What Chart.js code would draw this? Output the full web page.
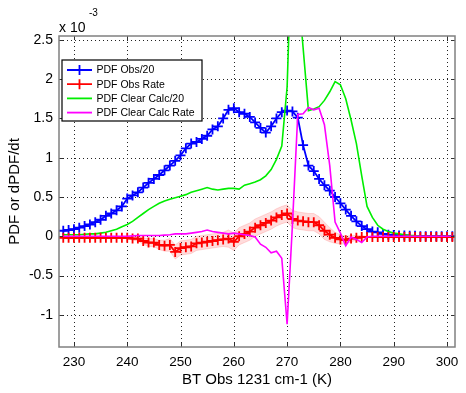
<!DOCTYPE html>
<html>
<head>
<meta charset="utf-8">
<script src="https://cdn.jsdelivr.net/npm/chart.js@4.4.1/dist/chart.umd.min.js"></script>
<style>
  html, body { margin: 0; padding: 0; background: #fff; }
  #wrap { width: 466px; height: 393px; }
</style>
</head>
<body>
<div id="wrap"><canvas id="chart" width="466" height="393"></canvas></div>
<script>
// brightness temperature bins (K)
const temps = [228, 229, 230, 231, 232, 233, 234, 235, 236, 237, 238, 239, 240, 241, 242, 243, 244, 245, 246, 247,
  248, 249, 250, 251, 252, 253, 254, 255, 256, 257, 258, 259, 260, 261, 262, 263, 264, 265, 266, 267,
  268, 269, 270, 271, 272, 273, 274, 275, 276, 277, 278, 279, 280, 281, 282, 283, 284, 285, 286, 287,
  288, 289, 290, 291, 292, 293, 294, 295, 296, 297, 298, 299, 300, 301];

// all values in units of 1e-3
const obsPdf = [0.07, 0.08, 0.09, 0.11, 0.13, 0.15, 0.18, 0.21, 0.26, 0.29, 0.33, 0.38, 0.48, 0.52, 0.56, 0.62, 0.68, 0.73, 0.78, 0.84,
  0.90, 0.96, 1.03, 1.12, 1.18, 1.20, 1.24, 1.28, 1.36, 1.40, 1.50, 1.61, 1.63, 1.58, 1.56, 1.52, 1.45, 1.38, 1.32, 1.40,
  1.50, 1.58, 1.60, 1.59, 1.51, 1.16, 0.90, 0.83, 0.73, 0.65, 0.58, 0.50, 0.42, 0.34, 0.26, 0.19, 0.13, 0.09, 0.06, 0.05,
  0.03, 0.02, 0.015, 0.01, 0.01, 0.005, 0.005, 0, 0, 0, 0, 0, 0, 0];

const obsRate = [-0.02, -0.02, -0.02, -0.02, -0.02, -0.02, -0.02, -0.02, -0.02, -0.02, -0.02, -0.02, -0.02, -0.03, -0.03, -0.06, -0.08, -0.08, -0.11, -0.12,
  -0.11, -0.20, -0.15, -0.14, -0.13, -0.09, -0.08, -0.07, -0.06, -0.05, -0.04, -0.03, -0.07, 0.00, 0.03, 0.06, 0.11, 0.14, 0.17, 0.20,
  0.24, 0.27, 0.29, 0.22, 0.20, 0.19, 0.18, 0.18, 0.14, 0.07, 0.02, -0.02, -0.04, -0.05, -0.03, -0.02, -0.01, -0.01, -0.01, -0.01,
  -0.01, -0.01, -0.01, -0.01, -0.01, -0.01, -0.01, -0.01, -0.01, -0.01, -0.01, -0.01, -0.01, -0.01];

// spread of the obs rate (shaded band)
const obsRateErr = [0.01, 0.01, 0.01, 0.01, 0.01, 0.01, 0.01, 0.01, 0.01, 0.01, 0.01, 0.01, 0.01, 0.02, 0.03, 0.04, 0.05, 0.05, 0.06, 0.07,
  0.08, 0.09, 0.09, 0.09, 0.09, 0.09, 0.09, 0.09, 0.09, 0.09, 0.09, 0.11, 0.11, 0.11, 0.11, 0.11, 0.11, 0.11, 0.11, 0.11,
  0.11, 0.11, 0.11, 0.11, 0.11, 0.11, 0.11, 0.11, 0.11, 0.11, 0.09, 0.07, 0.06, 0.05, 0.04, 0.03, 0.02, 0.01, 0.01, 0.01,
  0.01, 0.01, 0.01, 0.01, 0.01, 0.01, 0.01, 0.01, 0.01, 0.01, 0.01, 0.01, 0.01, 0.01];

const clearPdf = [0.02, 0.02, 0.02, 0.02, 0.025, 0.03, 0.03, 0.04, 0.05, 0.07, 0.09, 0.12, 0.15, 0.19, 0.24, 0.29, 0.34, 0.38, 0.42, 0.45,
  0.47, 0.49, 0.51, 0.53, 0.56, 0.58, 0.60, 0.62, 0.60, 0.59, 0.60, 0.61, 0.61, 0.60, 0.65, 0.67, 0.69, 0.72, 0.77, 0.85,
  0.98, 1.15, 1.90, 4.00, 3.20, 2.40, 1.60, 1.62, 1.65, 1.73, 1.84, 1.97, 1.93, 1.75, 1.48, 1.18, 0.77, 0.38, 0.24, 0.14,
  0.09, 0.06, 0.04, 0.03, 0.02, 0.01, 0.01, 0, 0, 0, 0, 0, 0, 0];

const clearRate = [0, 0, 0, 0, 0, 0, 0, 0, 0, 0, 0, 0, 0, 0.005, 0.01, 0.01, 0.01, 0.01, 0.01, 0.015,
  0.02, 0.03, 0.03, 0.03, 0.04, 0.05, 0.06, 0.08, 0.06, 0.05, 0.04, 0.03, 0.04, 0.03, 0.02, 0.01, -0.01, -0.10, -0.14, -0.21,
  -0.19, -0.28, -1.12, 0.15, 1.55, 1.56, 1.64, 1.61, 1.63, 1.42, 0.90, 0.18, 0.04, -0.12, -0.01, -0.04, -0.08, -0.01, 0, 0,
  0, 0, 0, 0, 0, 0, 0, 0, 0, 0, 0, 0, 0, 0];

const xTicks = [230, 240, 250, 260, 270, 280, 290, 300];
const yTicks = [-1, -0.5, 0, 0.5, 1, 1.5, 2, 2.5];
const labels = ["PDF Obs/20", "PDF Obs Rate", "PDF Clear Calc/20", "PDF Clear Calc Rate"];

const FONT = "'Liberation Sans', Arial, Helvetica, sans-serif";

function pts(vals) {
  return temps.map((t, i) => ({ x: t, y: vals[i] }));
}

// dotted grid under the data, MATLAB style
const dottedGrid = {
  id: "dottedGrid",
  beforeDatasetsDraw(chart) {
    const ctx = chart.ctx;
    const a = chart.chartArea;
    const xs = chart.scales.x, ys = chart.scales.y;
    ctx.save();
    ctx.strokeStyle = "#222";
    ctx.lineWidth = 1;
    ctx.setLineDash([1, 3]);
    ctx.beginPath();
    xTicks.forEach(v => {
      const px = Math.round(xs.getPixelForValue(v)) + 0.5;
      ctx.moveTo(px, a.bottom); ctx.lineTo(px, a.top);
    });
    yTicks.forEach(v => {
      const py = Math.round(ys.getPixelForValue(v)) + 0.5;
      ctx.moveTo(a.left, py); ctx.lineTo(a.right, py);
    });
    ctx.stroke();
    ctx.restore();
  }
};

// frame, inner tick marks, legend and axis texts
const matlabDecor = {
  id: "matlabDecor",
  afterDraw(chart) {
    const ctx = chart.ctx;
    const a = chart.chartArea;
    const xs = chart.scales.x, ys = chart.scales.y;
    ctx.save();

    // inner ticks
    ctx.strokeStyle = "#333";
    ctx.lineWidth = 1;
    ctx.beginPath();
    xTicks.forEach(v => {
      const px = Math.round(xs.getPixelForValue(v)) + 0.5;
      ctx.moveTo(px, a.bottom); ctx.lineTo(px, a.bottom - 4);
      ctx.moveTo(px, a.top); ctx.lineTo(px, a.top + 4);
    });
    yTicks.forEach(v => {
      const py = Math.round(ys.getPixelForValue(v)) + 0.5;
      ctx.moveTo(a.left, py); ctx.lineTo(a.left + 4, py);
      ctx.moveTo(a.right, py); ctx.lineTo(a.right - 4, py);
    });
    ctx.stroke();

    // box
    ctx.strokeStyle = "#808080";
    ctx.lineWidth = 1.5;
    ctx.strokeRect(a.left, a.top, a.right - a.left, a.bottom - a.top);

    // exponent
    ctx.fillStyle = "#000";
    ctx.textBaseline = "alphabetic";
    ctx.textAlign = "left";
    ctx.font = "14px " + FONT;
    ctx.fillText("x 10", 59, 32);
    ctx.font = "10px " + FONT;
    ctx.fillText("-3", 89, 16);

    // axis titles
    ctx.font = "15px " + FONT;
    ctx.textAlign = "center";
    ctx.textBaseline = "middle";
    ctx.fillText("BT Obs 1231 cm-1 (K)", (a.left + a.right) / 2, 380);
    ctx.save();
    ctx.translate(15, (a.top + a.bottom) / 2);
    ctx.rotate(-Math.PI / 2);
    ctx.fillText("PDF or dPDF/dt", 0, 0);
    ctx.restore();

    // legend
    const lx = 62, ly = 60, lw = 140, lh = 61;
    ctx.fillStyle = "#fff";
    ctx.fillRect(lx, ly, lw, lh);
    ctx.strokeStyle = "#000";
    ctx.lineWidth = 1.2;
    ctx.strokeRect(lx, ly, lw, lh);
    const legendSets = chart.data.datasets.filter(d => d.legendRow !== undefined);
    legendSets.forEach(d => {
      const yy = 70 + d.legendRow * 14.2;
      ctx.strokeStyle = d.borderColor;
      ctx.lineWidth = 1.8;
      ctx.beginPath();
      ctx.moveTo(67, yy); ctx.lineTo(92, yy);
      if (d.pointStyle === "cross") {
        ctx.moveTo(79.5, yy - 5); ctx.lineTo(79.5, yy + 5);
        ctx.moveTo(74.5, yy); ctx.lineTo(84.5, yy);
      }
      ctx.stroke();
      ctx.fillStyle = "#000";
      ctx.font = "10.5px " + FONT;
      ctx.textAlign = "left";
      ctx.textBaseline = "middle";
      ctx.fillText(d.label, 96.5, yy + 0.5);
    });

    ctx.restore();
  }
};

new Chart(document.getElementById("chart"), {
  type: "line",
  data: {
    datasets: [
      {
        label: "band upper",
        data: temps.map((t, i) => ({ x: t, y: obsRate[i] + obsRateErr[i] })),
        borderColor: "rgba(255,120,120,0.35)",
        borderWidth: 0.8,
        backgroundColor: "rgba(255,80,80,0.2)",
        pointRadius: 0,
        fill: "+1",
        order: 10
      },
      {
        label: "band lower",
        data: temps.map((t, i) => ({ x: t, y: obsRate[i] - obsRateErr[i] })),
        borderColor: "rgba(255,120,120,0.35)",
        borderWidth: 0.8,
        pointRadius: 0,
        fill: false,
        order: 10
      },
      {
        label: labels[0],
        legendRow: 0,
        data: pts(obsPdf),
        borderColor: "#0000ff",
        borderWidth: 1.8,
        pointStyle: "cross",
        pointRadius: 5,
        pointBorderWidth: 1.8,
        pointBorderColor: "#0000ff",
        fill: false,
        order: 4
      },
      {
        label: labels[1],
        legendRow: 1,
        data: pts(obsRate),
        borderColor: "#ff0000",
        borderWidth: 1.8,
        pointStyle: "cross",
        pointRadius: 5,
        pointBorderWidth: 1.8,
        pointBorderColor: "#ff0000",
        fill: false,
        order: 2
      },
      {
        label: labels[2],
        legendRow: 2,
        data: pts(clearPdf),
        borderColor: "#00ee00",
        borderWidth: 1.6,
        pointRadius: 0,
        fill: false,
        order: 3
      },
      {
        label: labels[3],
        legendRow: 3,
        data: pts(clearRate),
        borderColor: "#ff00ff",
        borderWidth: 1.6,
        pointRadius: 0,
        fill: false,
        order: 1
      }
    ]
  },
  options: {
    responsive: false,
    animation: false,
    events: [],
    layout: { padding: { left: 0, right: 11, top: 36, bottom: 0 } },
    plugins: {
      legend: { display: false },
      tooltip: { enabled: false }
    },
    elements: { line: { tension: 0 } },
    scales: {
      x: {
        type: "linear",
        min: 227.2,
        max: 301.5,
        afterBuildTicks: s => { s.ticks = xTicks.map(v => ({ value: v })); },
        afterFit: s => { s.height = 46; },
        ticks: {
          color: "#000",
          font: { family: FONT, size: 13.5 },
          padding: 7,
          maxRotation: 0,
          autoSkip: false,
          callback: v => String(v)
        },
        grid: { display: false, drawTicks: false },
        border: { display: false }
      },
      y: {
        type: "linear",
        min: -1.41,
        max: 2.55,
        afterBuildTicks: s => { s.ticks = yTicks.map(v => ({ value: v })); },
        afterFit: s => { s.width = 59; },
        ticks: {
          color: "#000",
          font: { family: FONT, size: 14 },
          padding: 6,
          autoSkip: false,
          callback: v => String(v)
        },
        grid: { display: false, drawTicks: false },
        border: { display: false }
      }
    }
  },
  plugins: [dottedGrid, matlabDecor]
});
</script>
</body>
</html>
